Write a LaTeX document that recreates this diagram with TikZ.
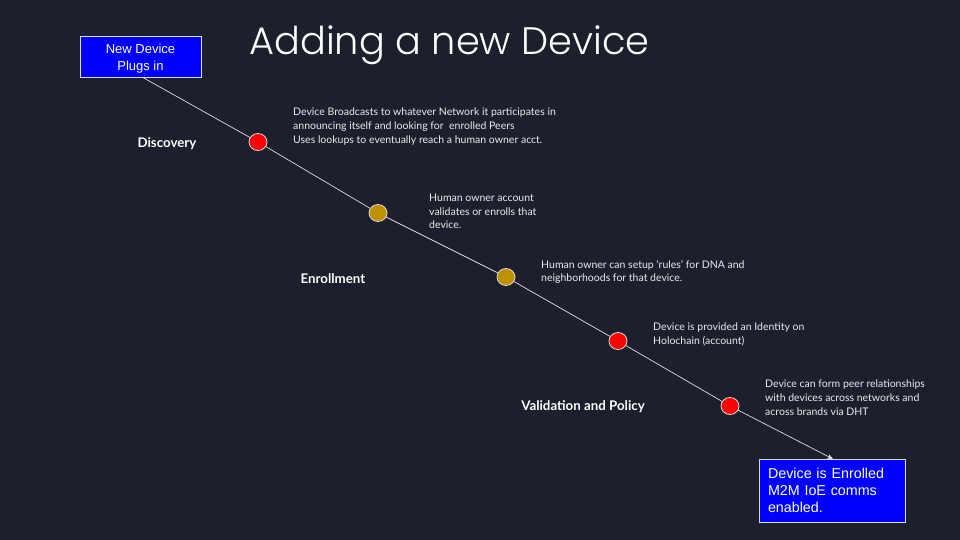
\documentclass[tikz,border=0pt]{standalone}
\usepackage{fontspec}
\setmainfont{Lato}
\newfontfamily\boxfont{Liberation Sans}
\newfontfamily\headfont{Poppins Light}
\usetikzlibrary{arrows.meta,shapes.geometric}
\definecolor{bg}{RGB}{28,32,44}
\definecolor{boxblue}{RGB}{0,0,255}
\definecolor{dotred}{RGB}{255,0,0}
\definecolor{dotgold}{RGB}{191,144,0}
\definecolor{rim}{RGB}{220,220,220}
\tikzset{
  statebox/.style={draw=rim, line width=0.8pt, fill=boxblue, text=white, inner sep=0pt},
  dot/.style={ellipse, draw=rim, line width=0.8pt, minimum width=18pt, minimum height=17pt, inner sep=0pt},
  reddot/.style={dot, fill=dotred},
  golddot/.style={dot, fill=dotgold},
  note/.style={anchor=north west, align=left, text=white!92!black, inner sep=0pt, font=\fontsize{10.5}{13.6}\selectfont},
  phase/.style={text=white, font=\bfseries\fontsize{13.3}{15}\selectfont, inner sep=0pt},
  link/.style={draw=rim, line width=0.7pt}
}
\begin{document}
\begin{tikzpicture}[x=1pt,y=-1pt]
\fill[bg] (0,0) rectangle (960,540);
\useasboundingbox (0,0) rectangle (960,540);

% title
\node[text=white, font=\headfont\fontsize{38.3}{42}\selectfont, inner sep=0pt] (title) at (449.5,45.5) {Adding a new Device};

% start and end boxes
\node[statebox, minimum width=121pt, minimum height=41pt,
  label={[text=white, font=\boxfont\fontsize{13}{17}\selectfont, align=center, inner sep=0pt, yshift=-2.5pt]center:New Device\\Plugs in}] (start) at (140.5,56.5) {};
\node[statebox, font=\boxfont\fontsize{14.3}{17}\selectfont, minimum width=146pt, minimum height=63pt, align=left, text width=128pt] (done) at (832,490.5) {Device is Enrolled\\M2M IoE comms\\enabled.};

% milestones along the path
\node[reddot]  (d1) at (258,142) {};
\node[golddot] (d2) at (378,213) {};
\node[golddot] (d3) at (506,277) {};
\node[reddot]  (d4) at (618,341) {};
\node[reddot]  (d5) at (730,406) {};

\coordinate (s0) at (142,77);
\coordinate (e0) at (833,459);
\draw[link] (s0) -- (d1);
\draw[link] (d1) -- (d2);
\draw[link] (d2) -- (d3);
\draw[link] (d3) -- (d4);
\draw[link] (d4) -- (d5);
\draw[link, -{Stealth[length=6pt,width=5pt]}] (d5) -- (e0);

% phase labels
\node[phase] (p1) at (167,143.5) {Discovery};
\node[phase] (p2) at (333,278.5) {Enrollment};
\node[phase] (p3) at (583,406.5) {Validation and Policy};

% notes
\node[note] (n1) at (293,108) {Device Broadcasts to whatever Network it participates in\\announcing itself and looking for\ \ enrolled Peers\\Uses lookups to eventually reach a human owner acct.};
\node[note] (n2) at (429,194) {Human owner account\\validates or enrolls that\\device.};
\node[note] (n3) at (541,260) {Human owner can setup ‘rules’ for DNA and\\neighborhoods for that device.};
\node[note] (n4) at (653,323) {Device is provided an Identity on\\Holochain (account)};
\node[note] (n5) at (765,380) {Device can form peer relationships\\with devices across networks and\\across brands via DHT};
\end{tikzpicture}
\end{document}
